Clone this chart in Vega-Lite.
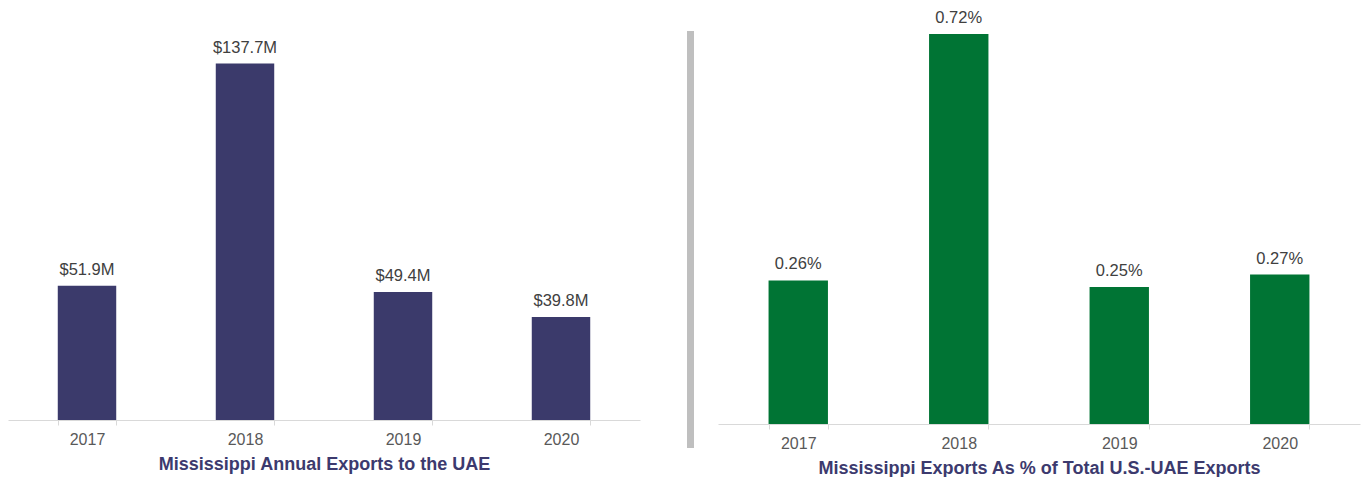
{
  "$schema": "https://vega.github.io/schema/vega-lite/v6.json",
  "padding": {"left": 8, "top": 10, "right": 2, "bottom": 0},
  "background": "white",
  "config": {
    "view": {"stroke": null},
    "font": "Liberation Sans",
    "concat": {"spacing": 24},
    "axis": {"domainColor": "#d9d9d9", "tickColor": "#d9d9d9", "labelColor": "#595959", "labelFont": "Liberation Sans", "labelFontSize": 16, "titleFont": "Liberation Sans", "titleFontSize": 18, "titleFontWeight": "bold", "titleColor": "#3c3a6e"}
  },
  "datasets": {
    "exports": [
      {"year": "2017", "value": 51.9, "label": "$51.9M"},
      {"year": "2018", "value": 137.7, "label": "$137.7M"},
      {"year": "2019", "value": 49.4, "label": "$49.4M"},
      {"year": "2020", "value": 39.8, "label": "$39.8M"}
    ],
    "share": [
      {"year": "2017", "value": 0.265, "label": "0.26%"},
      {"year": "2018", "value": 0.72, "label": "0.72%"},
      {"year": "2019", "value": 0.253, "label": "0.25%"},
      {"year": "2020", "value": 0.276, "label": "0.27%"}
    ],
    "sep": [{"x0": 23, "x1": 30, "y0": 0, "y1": 417}]
  },
  "hconcat": [
    {
      "width": 632,
      "height": 409,
      "data": {"name": "exports"},
      "encoding": {
        "x": {"field": "year", "type": "ordinal", "scale": {"paddingInner": 0.63, "paddingOuter": 0.315}, "axis": {"title": "Mississippi Annual Exports to the UAE", "labelAngle": 0, "tickBand": "extent", "tickSize": 5, "labelPadding": 6, "titlePadding": 8}},
        "y": {"field": "value", "type": "quantitative", "scale": {"domain": [0, 158], "nice": false}, "axis": null}
      },
      "layer": [
        {"mark": {"type": "bar", "color": "#3b3a6b"}},
        {"mark": {"type": "text", "baseline": "bottom", "dy": -8, "fontSize": 16.5, "color": "#404040"}, "encoding": {"text": {"field": "label"}}}
      ]
    },
    {
      "width": 30,
      "height": 437,
      "data": {"name": "sep"},
      "mark": {"type": "rect", "color": "#bfbfbf"},
      "encoding": {
        "x": {"field": "x0", "type": "quantitative", "scale": {"domain": [0, 30], "nice": false}, "axis": null},
        "x2": {"field": "x1"},
        "y": {"field": "y0", "type": "quantitative", "scale": {"domain": [0, 437], "nice": false}, "axis": null},
        "y2": {"field": "y1"}
      }
    },
    {
      "width": 642,
      "height": 413,
      "data": {"name": "share"},
      "encoding": {
        "x": {"field": "year", "type": "ordinal", "scale": {"paddingInner": 0.63, "paddingOuter": 0.315}, "axis": {"title": "Mississippi Exports As % of Total U.S.-UAE Exports", "labelAngle": 0, "tickBand": "extent", "tickSize": 5, "labelPadding": 6, "titlePadding": 8}},
        "y": {"field": "value", "type": "quantitative", "scale": {"domain": [0, 0.7625], "nice": false}, "axis": null}
      },
      "layer": [
        {"mark": {"type": "bar", "color": "#007434"}},
        {"mark": {"type": "text", "baseline": "bottom", "dy": -8, "fontSize": 16.5, "color": "#404040"}, "encoding": {"text": {"field": "label"}}}
      ]
    }
  ]
}
